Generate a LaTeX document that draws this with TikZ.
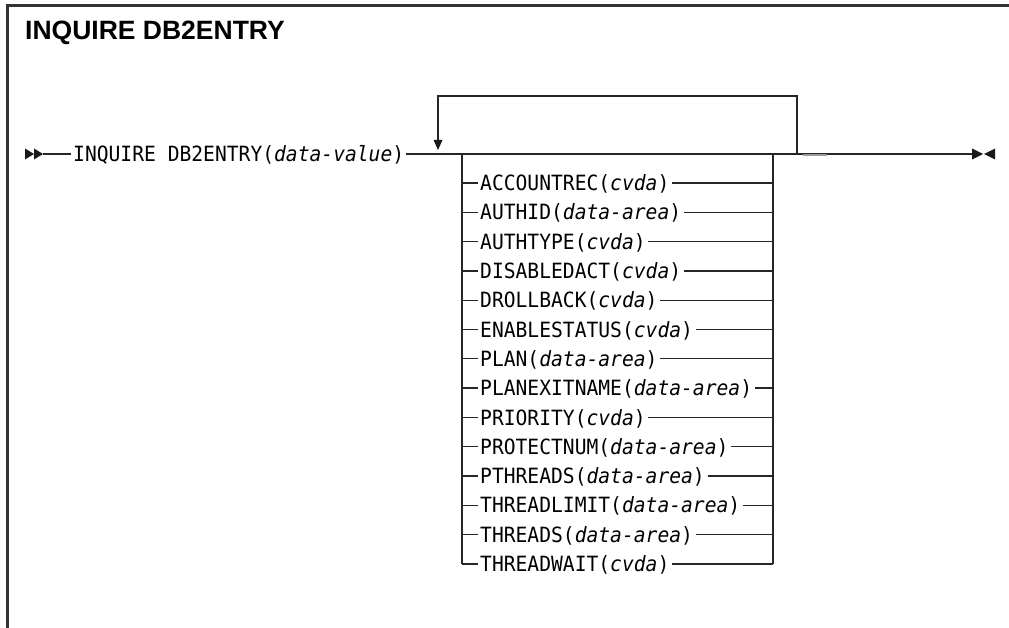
\documentclass[tikz,border=0pt]{standalone}
\usepackage{fontspec}
\newfontfamily\railfont{DejaVu Sans Mono}[FakeStretch=0.935]
\newfontfamily\titlefont{Liberation Sans}
\begin{document}
\begin{tikzpicture}[x=1bp,y=-1bp,
  rail/.style={line width=1.35bp, draw=black!85},
  frame/.style={line width=2.2bp, draw=black!80},
  tipfill/.style={fill=black!90, draw=none},
  item/.style={anchor=base west, inner ysep=0pt, inner xsep=2.5bp,
    font={\railfont\fontsize{21bp}{23bp}\selectfont}},
  titlestyle/.style={anchor=base west, inner sep=0pt,
    font={\titlefont\bfseries\fontsize{26.5bp}{28bp}\selectfont}}]
\useasboundingbox (0,0) rectangle (1009,628);
% frame
\coordinate (fb) at (7.5,628);
\coordinate (fc) at (7.5,5.5);
\coordinate (fr) at (1009,5.5);
\draw[frame] (fb) -- (fc) -- (fr);
\node[titlestyle] (title) at (25,40) {INQUIRE DB2ENTRY};
% main line coordinates
\coordinate (start) at (25,154);
\coordinate (s2) at (43,154);
\coordinate (bl) at (462,154);
\coordinate (br) at (773,154);
\coordinate (lr) at (797,154);
\coordinate (lt1) at (797,96);
\coordinate (lt2) at (438,96);
\coordinate (la) at (438,140);
\coordinate (end) at (972,154);
% start double arrowhead
\fill[tipfill] (25,148.5) -- (34,154) -- (25,159.5) -- cycle;
\fill[tipfill] (34,148.5) -- (43,154) -- (34,159.5) -- cycle;
\node[item, inner xsep=2bp] (cmd) at (71,161.5) {INQUIRE DB2ENTRY(\textit{data-value})};
\draw[rail] (s2) -- (cmd.west |- start);
\draw[rail] (cmd.east |- start) -- (end);
% loop back
\draw[rail] (lr) -- (lt1) -- (lt2) -- (la);
\fill[tipfill] (433.5,140) -- (442.5,140) -- (438,150) -- cycle;
% rows
\foreach \a/\b [count=\i] in {ACCOUNTREC/cvda, AUTHID/data-area, AUTHTYPE/cvda,
  DISABLEDACT/cvda, DROLLBACK/cvda, ENABLESTATUS/cvda, PLAN/data-area,
  PLANEXITNAME/data-area, PRIORITY/cvda, PROTECTNUM/data-area,
  PTHREADS/data-area, THREADLIMIT/data-area, THREADS/data-area, THREADWAIT/cvda}{
  \pgfmathsetmacro\yy{183+(\i-1)*29.3}
  \coordinate (L\i) at (462,\yy);
  \coordinate (R\i) at (773,\yy);
  \node[item] (t\i) at (477.5,\yy+7.6) {\a(\textit{\b})};
  \draw[rail] (L\i) -- (L\i -| t\i.west);
  \draw[rail] (t\i.east |- R\i) -- (R\i);
}
\draw[rail] (bl) -- (L14);
\draw[rail] (br) -- (R14);
% small grey dash
\coordinate (g1) at (803,155.5);
\coordinate (g2) at (827,155.5);
\draw[line width=2bp, black!40] (g1) -- (g2);
% end marker
\fill[tipfill] (972,148.5) -- (983,154) -- (972,159.5) -- cycle;
\fill[tipfill] (995,148.5) -- (984,154) -- (995,159.5) -- cycle;
\end{tikzpicture}
\end{document}
